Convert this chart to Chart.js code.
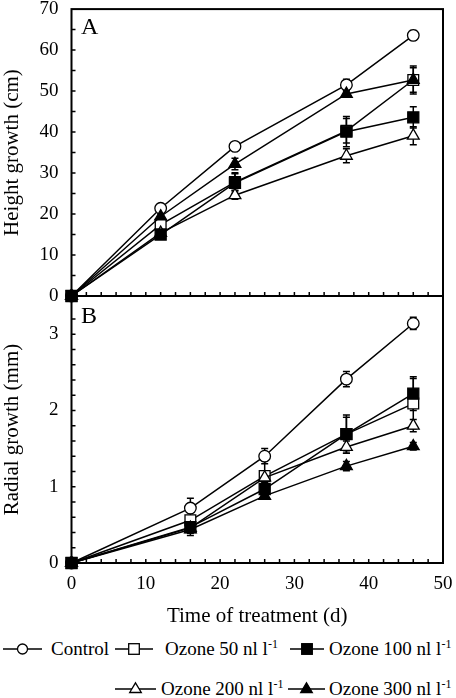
<!DOCTYPE html>
<html>
<head>
<meta charset="utf-8">
<script src="https://cdn.jsdelivr.net/npm/chart.js@4/dist/chart.umd.min.js"></script>
<style>
  html, body { margin: 0; padding: 0; background: #fff; }
  body { width: 456px; height: 698px; position: relative; overflow: hidden; font-family: "Liberation Serif", "Times New Roman", serif; }
  canvas { position: absolute; left: 0; }
  .lg { position: absolute; font-size: 19px; line-height: 20px; white-space: nowrap; color: #000; }
  .lg sup { font-size: 12px; vertical-align: 7px; line-height: 0; }
  .ic { position: absolute; }
</style>
</head>
<body>
<canvas id="chartA" width="456" height="310" style="top:0px"></canvas>
<canvas id="chartB" width="456" height="350" style="top:280px"></canvas>
<div id="legend"></div>
<script>
// ---------- data ----------
const seriesNames = ["Control", "Ozone 50 nl l-1", "Ozone 100 nl l-1", "Ozone 200 nl l-1", "Ozone 300 nl l-1"];
const daysHeight = [0, 12, 22, 37, 46];
const daysRadial = [0, 16, 26, 37, 46];

const heightControl = [0, 21.4, 36.5, 51.5, 63.6];
const height50      = [0, 17.4, 27.8, 40.3, 52.7];
const height100     = [0, 15.0, 27.6, 40.1, 43.6];
const height200     = [0, 15.4, 24.6, 34.2, 39.1];
const height300     = [0, 19.4, 32.2, 49.3, 52.7];

const heightErrControl = [0, 0.6, 0.8, 1.4, 1.2];
const heightErr50      = [0, 0.8, 2.0, 3.0, 3.0];
const heightErr100     = [0, 0.8, 2.5, 3.7, 2.6];
const heightErr200     = [0, 0.6, 1.0, 1.7, 2.2];
const heightErr300     = [0, 0.6, 1.4, 0.8, 3.4];

const radialControl = [0, 0.72, 1.40, 2.41, 3.14];
const radial50      = [0, 0.56, 1.14, 1.69, 2.09];
const radial100     = [0, 0.47, 0.97, 1.69, 2.22];
const radial200     = [0, 0.46, 1.12, 1.52, 1.80];
const radial300     = [0, 0.44, 0.88, 1.27, 1.53];

const radialErrControl = [0, 0.13, 0.10, 0.10, 0.08];
const radialErr50      = [0, 0.06, 0.20, 0.22, 0.33];
const radialErr100     = [0, 0.06, 0.08, 0.25, 0.22];
const radialErr200     = [0, 0.10, 0.06, 0.08, 0.08];
const radialErr300     = [0, 0.05, 0.04, 0.06, 0.05];

const xTickLabels = [0, 10, 20, 30, 40, 50];
const heightTickLabels = [0, 10, 20, 30, 40, 50, 60, 70];
const radialTickLabels = [0, 1, 2, 3];

// ---------- styles ----------
const FONT = "'Liberation Serif', 'Times New Roman', serif";
const styles = [
  { pointStyle: 'circle',   radius: 5.8, fill: '#fff', order: 4 },
  { pointStyle: 'rect',     radius: 7.6, fill: '#fff', order: 3 },
  { pointStyle: 'rect',     radius: 7.8, fill: '#000', order: 0 },
  { pointStyle: 'triangle', radius: 6.8, fill: '#fff', order: 2 },
  { pointStyle: 'triangle', radius: 6.8, fill: '#000', order: 1 }
];

function makeDatasets(days, series, errs) {
  return series.map((vals, i) => ({
    label: seriesNames[i],
    data: vals.map((v, j) => ({ x: days[j], y: v })),
    errorBars: errs[i],
    borderColor: '#000',
    borderWidth: 1.5,
    pointStyle: styles[i].pointStyle,
    pointRadius: styles[i].radius,
    pointBackgroundColor: styles[i].fill,
    pointBorderColor: '#000',
    pointBorderWidth: 1.3,
    tension: 0,
    clip: false,
    order: styles[i].order
  }));
}

const decor = {
  id: 'decor',
  beforeDatasetsDraw(chart, args, opts) {
    const ctx = chart.ctx;
    const a = chart.chartArea;
    const xs = chart.scales.x, ys = chart.scales.y;
    ctx.save();
    // frame
    ctx.strokeStyle = '#000';
    ctx.lineWidth = 2;
    ctx.strokeRect(a.left, a.top, a.right - a.left, a.bottom - a.top);
    // inward tick marks
    ctx.lineWidth = 1.5;
    ctx.beginPath();
    for (let v = xs.min; v <= xs.max + 1e-9; v += opts.xMinor) {
      const px = xs.getPixelForValue(v);
      ctx.moveTo(px, a.bottom);
      ctx.lineTo(px, a.bottom - 4);
    }
    for (let v = ys.min; v <= ys.max - opts.yMinor / 2; v += opts.yMinor) {
      const py = ys.getPixelForValue(v);
      ctx.moveTo(a.left, py);
      ctx.lineTo(a.left + 4, py);
    }
    ctx.stroke();
    // error bars
    ctx.lineWidth = 1.5;
    chart.data.datasets.forEach((ds) => {
      ds.errorBars.forEach((e, j) => {
        if (!e) return;
        const p = ds.data[j];
        const px = xs.getPixelForValue(p.x);
        const y1 = ys.getPixelForValue(p.y + e);
        const y2 = ys.getPixelForValue(p.y - e);
        ctx.beginPath();
        ctx.moveTo(px, y1); ctx.lineTo(px, y2);
        ctx.moveTo(px - 3.5, y1); ctx.lineTo(px + 3.5, y1);
        ctx.moveTo(px - 3.5, y2); ctx.lineTo(px + 3.5, y2);
        ctx.stroke();
      });
    });
    // panel letter
    ctx.fillStyle = '#000';
    ctx.font = '24px ' + FONT;
    ctx.textBaseline = 'alphabetic';
    ctx.textAlign = 'left';
    ctx.fillText(opts.letter, a.left + 9.5, a.top + opts.letterDy);
    ctx.restore();
  }
};

function tickCb(list) {
  return function (value) {
    return list.some(t => Math.abs(t - value) < 1e-9) ? String(value) : '';
  };
}

function makeChart(id, datasets, cfg) {
  return new Chart(document.getElementById(id), {
    type: 'line',
    data: { datasets },
    plugins: [decor],
    options: {
      responsive: false,
      animation: false,
      devicePixelRatio: 1,
      layout: { padding: { top: cfg.padTop, right: 13, left: 0, bottom: 0 } },
      plugins: {
        legend: { display: false },
        tooltip: { enabled: false },
        decor: { xMinor: 2, yMinor: cfg.yMinor, letter: cfg.letter, letterDy: cfg.letterDy }
      },
      scales: {
        x: {
          type: 'linear', min: 0, max: 50,
          grid: { display: false, drawTicks: false },
          border: { display: false },
          ticks: {
            display: cfg.showX, stepSize: 10, padding: 10, color: '#000',
            font: { family: FONT, size: 19 }, maxRotation: 0,
            callback: tickCb(xTickLabels)
          },
          title: {
            display: cfg.showX, text: 'Time of treatment (d)', color: '#000',
            font: { family: FONT, size: 21 }, padding: { top: 0, bottom: 1 }
          },
          afterFit: s => { s.height = cfg.xHeight; s.paddingLeft = 0; s.paddingRight = 0; }
        },
        y: {
          type: 'linear', min: 0, max: cfg.yMax,
          grid: { display: false, drawTicks: false },
          border: { display: false },
          ticks: {
            stepSize: cfg.yStep, padding: 13, color: '#000',
            font: { family: FONT, size: 19 },
            callback: tickCb(cfg.yLabels)
          },
          title: {
            display: true, text: cfg.yTitle, color: '#000',
            font: { family: FONT, size: 21 }, padding: { top: 0, bottom: 0 }
          },
          afterFit: s => { s.width = 71.5; s.paddingTop = 0; s.paddingBottom = 0; }
        }
      }
    }
  });
}

makeChart('chartA',
  makeDatasets(daysHeight, [heightControl, height50, height100, height200, height300],
    [heightErrControl, heightErr50, heightErr100, heightErr200, heightErr300]),
  { padTop: 7, xHeight: 14, showX: false, yMax: 70, yStep: 10, yMinor: 5,
    yLabels: heightTickLabels, yTitle: 'Height growth (cm)', letter: 'A', letterDy: 25 });

makeChart('chartB',
  makeDatasets(daysRadial, [radialControl, radial50, radial100, radial200, radial300],
    [radialErrControl, radialErr50, radialErr100, radialErr200, radialErr300]),
  { padTop: 16, xHeight: 67, showX: true, yMax: 3.5, yStep: 1, yMinor: 0.2,
    yLabels: radialTickLabels, yTitle: 'Radial growth (mm)', letter: 'B', letterDy: 27 });

// ---------- legend (HTML) ----------
const legendItems = [
  { i: 0, iconX: 3,   iconW: 39, textX: 51,  y: 649 },
  { i: 1, iconX: 115, iconW: 38, textX: 165, y: 649 },
  { i: 2, iconX: 290, iconW: 34, textX: 329, y: 649 },
  { i: 3, iconX: 115, iconW: 41, textX: 161, y: 689 },
  { i: 4, iconX: 288, iconW: 37, textX: 329, y: 689 }
];
function iconSvg(i, w) {
  const st = styles[i];
  let m = '';
  const f = st.fill, c = w / 2;
  if (st.pointStyle === 'circle') m = `<circle cx="${c}" cy="8" r="5" fill="${f}" stroke="#000" stroke-width="1.3"/>`;
  else if (st.pointStyle === 'rect') m = `<rect x="${c-5.3}" y="2.7" width="10.6" height="10.6" fill="${f}" stroke="#000" stroke-width="1.3"/>`;
  else m = `<polygon points="${c},1.8 ${c+5.8},11.5 ${c-5.8},11.5" fill="${f}" stroke="#000" stroke-width="1.3"/>`;
  return `<svg width="${w}" height="16" viewBox="0 0 ${w} 16"><line x1="0" y1="8" x2="${w}" y2="8" stroke="#000" stroke-width="1.5"/>${m}</svg>`;
}
const leg = document.getElementById('legend');
legendItems.forEach(it => {
  const ic = document.createElement('div');
  ic.className = 'ic';
  ic.style.left = it.iconX + 'px';
  ic.style.top = (it.y - 8) + 'px';
  ic.innerHTML = iconSvg(it.i, it.iconW);
  leg.appendChild(ic);
  const tx = document.createElement('div');
  tx.className = 'lg';
  tx.style.left = it.textX + 'px';
  tx.style.top = (it.y - 10) + 'px';
  const name = seriesNames[it.i];
  tx.innerHTML = name.endsWith('l-1') ? name.slice(0, -2) + '<sup>-1</sup>' : name;
  leg.appendChild(tx);
});
</script>
</body>
</html>
